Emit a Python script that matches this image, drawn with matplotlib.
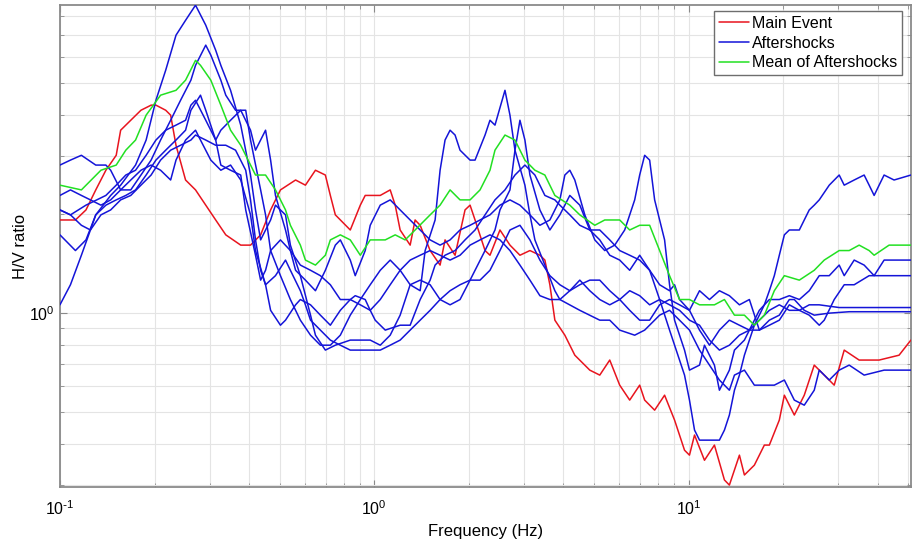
import matplotlib
matplotlib.use("Agg")
import matplotlib.pyplot as plt
from matplotlib.ticker import FixedLocator, NullFormatter, FixedFormatter

plt.rcParams['font.family'] = ['Liberation Sans', 'DejaVu Sans']
plt.rcParams['mathtext.default'] = 'regular'
plt.rcParams['axes.unicode_minus'] = False

# main event spectral ratio
red_freq = [0.100, 0.112, 0.121, 0.130, 0.140, 0.151, 0.156, 0.168, 0.181, 0.195, 0.202, 0.217, 0.225,
            0.234, 0.251, 0.270, 0.291, 0.313, 0.337, 0.376, 0.404, 0.435, 0.468, 0.503, 0.562, 0.604,
            0.650, 0.699, 0.725, 0.752, 0.839, 0.903, 0.936, 1.045, 1.124, 1.166, 1.209, 1.301, 1.349,
            1.400, 1.506, 1.620, 1.680, 1.808, 1.945, 2.018, 2.093, 2.252, 2.335, 2.512, 2.703, 2.908,
            3.129, 3.366, 3.491, 3.621, 3.756, 4.041, 4.347, 4.851, 5.219, 5.615, 6.040, 6.499, 6.992,
            7.252, 7.802, 8.392, 9.028, 9.712, 10.07, 10.45, 11.24, 12.09, 13.01, 13.49, 14.52, 15.06,
            16.20, 17.43, 18.08, 19.45, 20.18, 21.71, 23.35, 25.12, 27.03, 29.08, 31.29, 34.91, 37.56,
            40.41, 46.77, 51.0]
red_hv = [1.92, 1.92, 2.06, 2.37, 2.72, 3.02, 3.60, 3.86, 4.14, 4.29, 4.29, 4.14, 4.00,
          3.24, 2.54, 2.37, 2.13, 1.92, 1.73, 1.61, 1.61, 1.73, 2.06, 2.37, 2.54, 2.45,
          2.72, 2.63, 2.28, 1.99, 1.79, 2.13, 2.28, 2.28, 2.37, 2.13, 1.79, 1.61, 1.92,
          1.85, 1.55, 1.40, 1.67, 1.50, 2.06, 2.13, 1.92, 1.55, 1.50, 1.79, 1.61, 1.50,
          1.55, 1.50, 1.45, 1.22, 0.952, 0.857, 0.745, 0.671, 0.648, 0.720, 0.604, 0.544, 0.604,
          0.544, 0.507, 0.563, 0.473, 0.383, 0.370, 0.426, 0.357, 0.397, 0.311, 0.300, 0.370, 0.322,
          0.345, 0.397, 0.397, 0.473, 0.563, 0.490, 0.563, 0.695, 0.648, 0.604, 0.772, 0.720, 0.720,
          0.720, 0.745, 0.828]

# mean of the aftershock ratios
mean_freq = [0.100, 0.117, 0.135, 0.151, 0.162, 0.174, 0.188, 0.209, 0.234, 0.251, 0.270, 0.280,
             0.302, 0.325, 0.349, 0.376, 0.390, 0.419, 0.451, 0.485, 0.522, 0.541, 0.582, 0.604,
             0.650, 0.699, 0.725, 0.780, 0.839, 0.903, 0.971, 1.084, 1.166, 1.254, 1.349, 1.506,
             1.620, 1.743, 1.875, 2.018, 2.171, 2.335, 2.422, 2.606, 2.804, 3.016, 3.245, 3.491,
             3.756, 4.191, 4.509, 5.032, 5.413, 6.040, 6.499, 6.992, 7.522, 8.093, 8.703, 9.363,
             10.07, 10.84, 12.09, 13.01, 14.00, 15.06, 16.20, 17.43, 18.75, 20.18, 22.52, 25.12,
             27.03, 30.16, 32.45, 34.91, 37.56, 38.96, 43.47, 51.0]
mean_hv = [2.45, 2.37, 2.72, 2.82, 3.13, 3.36, 4.00, 4.60, 4.76, 5.11, 5.87, 5.67,
           5.11, 4.29, 3.60, 3.24, 3.02, 2.63, 2.63, 2.37, 2.06, 1.85, 1.61, 1.45,
           1.40, 1.50, 1.67, 1.73, 1.67, 1.50, 1.67, 1.67, 1.73, 1.67, 1.79, 1.99,
           2.13, 2.37, 2.21, 2.21, 2.37, 2.72, 3.13, 3.48, 3.36, 2.92, 2.72, 2.63,
           2.28, 2.13, 1.99, 1.85, 1.92, 1.92, 1.79, 1.85, 1.85, 1.55, 1.30, 1.10,
           1.10, 1.06, 1.06, 1.10, 0.986, 0.986, 0.919, 0.986, 1.17, 1.30, 1.26, 1.35,
           1.45, 1.55, 1.55, 1.61, 1.55, 1.50, 1.61, 1.61]

# individual aftershocks
as1_freq = [0.100, 0.112, 0.121, 0.130, 0.145, 0.156, 0.174, 0.188, 0.202, 0.217, 0.234, 0.251,
            0.270, 0.291, 0.313, 0.325, 0.349, 0.376, 0.404, 0.419, 0.435, 0.468, 0.485, 0.522,
            0.541, 0.582, 0.627, 0.650, 0.699, 0.752, 0.839, 0.903, 0.971, 1.045, 1.124, 1.209,
            1.301, 1.400, 1.506, 1.620, 1.743, 1.875, 2.018, 2.252, 2.422, 2.512, 2.703, 2.804,
            2.908, 3.016, 3.129, 3.366, 3.621, 3.896, 4.191, 4.509, 4.851, 5.219, 5.615, 6.040,
            6.499, 6.992, 7.522, 8.093, 8.703, 9.363, 9.712, 10.07, 10.45, 10.84, 11.66, 12.54,
            13.01, 13.49, 14.00, 14.52, 15.06, 15.62, 16.20, 16.80, 17.43, 18.08, 18.75, 19.45,
            20.18, 20.93, 22.52, 23.35, 24.22, 25.12, 26.06, 28.04, 30.16, 31.29, 33.66, 36.21,
            37.56, 38.96, 40.41, 41.91, 45.09, 51.0]
as1_hv = [1.73, 1.55, 1.67, 1.99, 2.28, 2.45, 2.82, 3.36, 4.44, 5.48, 7.00, 7.77,
          8.64, 7.51, 6.30, 5.67, 4.76, 3.73, 2.63, 2.06, 1.67, 1.92, 2.13, 1.99,
          1.61, 1.30, 0.986, 0.857, 0.772, 0.799, 0.828, 0.828, 0.828, 0.799, 0.857, 0.986,
          1.22, 1.26, 1.22, 1.10, 1.06, 1.10, 1.26, 1.55, 1.79, 2.06, 2.37, 3.13,
          3.86, 3.36, 2.63, 2.06, 1.79, 1.99, 2.28, 2.13, 1.79, 1.67, 1.50, 1.45,
          1.35, 1.50, 1.35, 1.10, 0.888, 0.720, 0.648, 0.544, 0.441, 0.411, 0.411, 0.411,
          0.441, 0.490, 0.583, 0.648, 0.745, 0.828, 0.919, 0.986, 1.06, 1.17, 1.30, 1.50,
          1.73, 1.79, 1.79, 1.92, 2.06, 2.13, 2.21, 2.45, 2.63, 2.45, 2.54, 2.63,
          2.45, 2.28, 2.45, 2.63, 2.54, 2.63]

as2_freq = [0.100, 0.108, 0.117, 0.130, 0.140, 0.145, 0.156, 0.168, 0.181, 0.195, 0.209, 0.225,
            0.242, 0.261, 0.270, 0.291, 0.302, 0.325, 0.337, 0.362, 0.390, 0.404, 0.435, 0.451,
            0.468, 0.503, 0.541, 0.582, 0.627, 0.674, 0.725, 0.780, 0.839, 0.903, 0.971, 1.045,
            1.124, 1.209, 1.301, 1.400, 1.452, 1.562, 1.620, 1.680, 1.743, 1.808, 1.875, 2.018,
            2.093, 2.252, 2.335, 2.422, 2.606, 2.703, 2.804, 3.016, 3.129, 3.245, 3.491, 3.756,
            3.896, 4.191, 4.509, 4.851, 5.219, 5.615, 6.040, 6.499, 6.992, 7.522, 8.093, 8.703,
            9.363, 10.07, 10.84, 11.66, 12.54, 13.49, 14.52, 15.62, 16.80, 18.08, 19.45, 20.93,
            22.52, 24.22, 26.06, 28.04, 30.16, 31.29, 33.66, 36.21, 38.96, 41.91, 51.0]
as2_hv = [2.82, 2.92, 3.02, 2.82, 2.82, 2.72, 2.37, 2.37, 2.63, 2.92, 3.36, 3.86,
          4.44, 5.11, 5.67, 6.53, 6.09, 5.11, 4.60, 4.14, 4.14, 3.36, 2.37, 1.99,
          1.55, 1.30, 1.10, 0.952, 0.857, 0.799, 0.799, 0.857, 0.986, 1.10, 1.22, 1.35,
          1.45, 1.35, 1.22, 1.17, 1.55, 1.92, 2.72, 3.36, 3.60, 3.48, 3.13, 2.92,
          2.92, 3.48, 3.86, 3.73, 4.76, 4.00, 3.13, 2.45, 1.99, 1.67, 1.40, 1.17,
          1.10, 1.17, 1.26, 1.17, 1.10, 1.06, 1.10, 1.02, 0.952, 0.952, 1.06, 1.10,
          1.06, 1.02, 0.888, 0.799, 0.888, 0.952, 0.919, 0.888, 1.02, 1.10, 1.10, 1.13,
          1.10, 1.17, 1.30, 1.30, 1.40, 1.30, 1.45, 1.40, 1.30, 1.45, 1.45]

as3_freq = [0.100, 0.108, 0.121, 0.140, 0.151, 0.162, 0.174, 0.188, 0.202, 0.217, 0.234, 0.251,
            0.261, 0.270, 0.291, 0.313, 0.325, 0.349, 0.376, 0.404, 0.419, 0.451, 0.468, 0.485,
            0.522, 0.541, 0.582, 0.627, 0.674, 0.725, 0.780, 0.839, 0.870, 0.936, 0.971, 1.007,
            1.084, 1.209, 1.301, 1.400, 1.506, 1.562, 1.680, 1.808, 1.945, 2.093, 2.252, 2.422,
            2.606, 2.804, 3.016, 3.245, 3.491, 3.756, 3.896, 4.191, 4.509, 4.851, 5.219, 5.615,
            6.040, 6.499, 6.992, 7.522, 8.093, 8.703, 9.028, 9.363, 10.07, 10.84, 11.66, 12.54,
            13.49, 14.52, 15.62, 16.80, 18.08, 19.45, 20.93, 22.52, 24.22, 26.06, 27.03, 29.08,
            31.29, 33.66, 37.56, 40.41, 45.09, 51.0]
as3_hv = [2.06, 1.99, 2.13, 2.28, 2.45, 2.63, 2.72, 3.02, 3.36, 3.60, 3.73, 3.86,
          4.29, 4.44, 3.86, 3.36, 3.60, 3.86, 4.14, 3.60, 3.13, 3.60, 2.92, 2.28,
          1.79, 1.55, 1.40, 1.35, 1.30, 1.22, 1.10, 1.10, 1.13, 1.10, 1.02, 0.952,
          0.888, 0.919, 0.919, 1.10, 1.26, 1.40, 1.50, 1.55, 1.67, 1.79, 1.99, 2.21,
          2.37, 2.63, 2.82, 2.63, 2.28, 2.21, 2.13, 1.99, 1.85, 1.79, 1.79, 1.67,
          1.55, 1.50, 1.45, 1.35, 1.22, 1.17, 1.22, 1.10, 1.02, 1.17, 1.10, 1.17,
          1.13, 1.06, 1.10, 0.888, 0.919, 0.952, 1.06, 1.02, 0.986, 0.919, 0.952, 1.10,
          1.22, 1.22, 1.30, 1.30, 1.30, 1.30]

as4_freq = [0.100, 0.108, 0.117, 0.125, 0.135, 0.145, 0.156, 0.168, 0.181, 0.195, 0.209, 0.225,
            0.242, 0.261, 0.270, 0.291, 0.313, 0.337, 0.362, 0.390, 0.404, 0.419, 0.435, 0.451,
            0.485, 0.522, 0.541, 0.582, 0.604, 0.627, 0.674, 0.725, 0.780, 0.839, 0.903, 0.971,
            1.045, 1.124, 1.209, 1.301, 1.400, 1.506, 1.620, 1.743, 1.875, 2.018, 2.171, 2.335,
            2.512, 2.703, 2.908, 3.129, 3.366, 3.621, 3.896, 4.191, 4.509, 4.851, 5.219, 5.615,
            6.040, 6.499, 6.992, 7.522, 8.093, 8.703, 9.363, 10.07, 10.84, 11.66, 12.54, 13.49,
            14.52, 15.62, 16.80, 18.08, 19.45, 20.93, 22.52, 24.22, 26.06, 30.16, 34.91, 40.41, 51.0]
as4_hv = [1.06, 1.22, 1.50, 1.79, 1.99, 2.06, 2.21, 2.28, 2.45, 2.63, 2.92, 3.13,
          3.24, 3.36, 3.48, 3.36, 3.24, 3.24, 3.13, 2.72, 2.21, 1.67, 1.35, 1.22,
          1.30, 1.45, 1.35, 1.17, 1.06, 0.952, 0.888, 0.828, 0.799, 0.772, 0.772, 0.772,
          0.772, 0.799, 0.828, 0.888, 0.952, 1.02, 1.10, 1.17, 1.22, 1.26, 1.26, 1.35,
          1.55, 1.79, 1.85, 1.67, 1.45, 1.30, 1.22, 1.17, 1.22, 1.26, 1.26, 1.17,
          1.10, 1.17, 1.13, 1.06, 1.10, 1.06, 1.02, 0.952, 0.919, 0.828, 0.772, 0.799,
          0.857, 0.888, 0.952, 1.02, 1.06, 1.02, 1.02, 1.06, 1.06, 1.04, 1.04, 1.04, 1.04]

as5_freq = [0.100, 0.108, 0.117, 0.125, 0.130, 0.140, 0.151, 0.162, 0.174, 0.188, 0.202, 0.217,
            0.234, 0.251, 0.261, 0.280, 0.291, 0.313, 0.325, 0.349, 0.376, 0.390, 0.419, 0.435,
            0.451, 0.468, 0.503, 0.541, 0.562, 0.604, 0.650, 0.699, 0.752, 0.780, 0.839, 0.870,
            0.936, 0.971, 1.045, 1.124, 1.209, 1.301, 1.400, 1.506, 1.620, 1.743, 1.875, 2.018,
            2.171, 2.335, 2.512, 2.703, 2.908, 3.129, 3.366, 3.621, 3.896, 4.041, 4.191, 4.347,
            4.677, 5.032, 5.413, 5.824, 6.265, 6.741, 6.992, 7.252, 7.522, 7.802, 8.392, 8.703,
            9.028, 9.712, 10.07, 10.84, 11.24, 12.09, 12.54, 13.49, 14.00, 15.06, 15.62, 16.80,
            18.08, 19.45, 20.93, 21.71, 23.35, 25.12, 28.04, 32.45, 37.56, 51.0]
as5_hv = [2.06, 1.99, 1.85, 1.79, 1.99, 2.13, 2.21, 2.28, 2.37, 2.63, 2.92, 3.13,
          3.36, 3.60, 4.14, 4.60, 4.14, 3.36, 2.82, 2.72, 2.63, 2.06, 1.50, 1.26,
          1.35, 1.55, 1.67, 1.55, 1.35, 1.26, 1.17, 1.35, 1.61, 1.67, 1.45, 1.30,
          1.55, 1.85, 2.13, 2.21, 2.06, 1.92, 1.79, 1.67, 1.61, 1.67, 1.79, 1.85,
          1.92, 1.99, 2.13, 2.21, 2.13, 1.99, 1.85, 1.92, 2.21, 2.63, 2.72, 2.54,
          1.99, 1.67, 1.55, 1.61, 1.79, 2.21, 2.63, 3.02, 2.92, 2.21, 1.67, 1.22,
          0.952, 0.772, 0.671, 0.695, 0.799, 0.695, 0.583, 0.671, 0.772, 0.828, 0.888, 0.888,
          0.952, 0.986, 1.10, 1.10, 1.02, 0.986, 1.00, 1.01, 1.01, 1.01]

as6_freq = [0.100, 0.108, 0.117, 0.125, 0.135, 0.145, 0.156, 0.168, 0.181, 0.195, 0.209, 0.225,
            0.234, 0.251, 0.270, 0.280, 0.302, 0.325, 0.349, 0.376, 0.404, 0.419, 0.451, 0.468,
            0.503, 0.522, 0.562, 0.582, 0.627, 0.674, 0.725, 0.780, 0.839, 0.903, 0.971, 1.045,
            1.124, 1.209, 1.301, 1.400, 1.506, 1.620, 1.743, 1.875, 2.018, 2.171, 2.335, 2.512,
            2.703, 2.908, 3.129, 3.366, 3.621, 3.896, 4.509, 5.219, 5.615, 6.040, 6.741, 7.252,
            8.093, 8.703, 9.363, 10.07, 10.84, 11.66, 12.54, 13.49, 14.00, 15.06, 16.20, 18.75,
            20.18, 21.71, 23.35, 25.12, 26.06, 28.04, 30.16, 32.45, 36.21, 41.91, 51.0]
as6_hv = [2.28, 2.37, 2.28, 2.21, 2.13, 2.21, 2.37, 2.54, 2.72, 2.82, 2.72, 2.54,
          2.92, 3.36, 3.60, 3.36, 2.92, 2.72, 2.82, 2.54, 1.99, 1.55, 1.22, 1.02,
          0.919, 0.952, 1.06, 1.10, 1.06, 0.986, 0.919, 1.02, 1.10, 1.06, 1.02, 1.10,
          1.22, 1.35, 1.45, 1.50, 1.55, 1.50, 1.45, 1.50, 1.61, 1.67, 1.73, 1.67,
          1.55, 1.40, 1.26, 1.13, 1.10, 1.10, 1.02, 0.952, 0.952, 0.888, 0.857, 0.888,
          0.986, 1.02, 0.952, 0.888, 0.772, 0.695, 0.626, 0.583, 0.648, 0.671, 0.604, 0.604,
          0.626, 0.544, 0.525, 0.583, 0.671, 0.626, 0.671, 0.695, 0.648, 0.671, 0.671]

aftershocks = [(as1_freq, as1_hv), (as2_freq, as2_hv), (as3_freq, as3_hv),
               (as4_freq, as4_hv), (as5_freq, as5_hv), (as6_freq, as6_hv)]

fig = plt.figure(figsize=(9.14, 5.43), dpi=100)
ax = fig.add_axes([0.0656, 0.1031, 0.931, 0.8877])

lw = 1.1
style = dict(lw=lw, solid_joinstyle='round', solid_capstyle='round')
ax.plot(red_freq, red_hv, color='#e8141e', label='Main Event', zorder=3, **style)
for i, (f, hv) in enumerate(aftershocks):
    ax.plot(f, hv, color='#1414d8', label='Aftershocks' if i == 0 else None, zorder=3, **style)
ax.plot(mean_freq, mean_hv, color='#22e022', label='Mean of Aftershocks', zorder=4, **style)

ax.set_xscale('log')
ax.set_yscale('log')
ax.set_xlim(0.1, 51)
ax.set_ylim(0.296, 8.65)

xmin = [m * 10.0 ** e for e in (-1, 0, 1) for m in range(2, 10)]
ax.xaxis.set_major_locator(FixedLocator([0.1, 1, 10]))
ax.xaxis.set_major_formatter(FixedFormatter([r'$10^{\text{-}1}$', '$10^{0}$', '$10^{1}$']))
ax.xaxis.set_minor_locator(FixedLocator(xmin))
ax.xaxis.set_minor_formatter(NullFormatter())

ymin = [0.3, 0.4, 0.5, 0.6, 0.7, 0.8, 0.9, 2, 3, 4, 5, 6, 7, 8]
ax.yaxis.set_major_locator(FixedLocator([1]))
ax.yaxis.set_major_formatter(FixedFormatter(['$10^{0}$']))
ax.yaxis.set_minor_locator(FixedLocator(ymin))
ax.yaxis.set_minor_formatter(NullFormatter())

ax.grid(True, which='both', color='#e4e4e4', lw=0.8)
ax.set_axisbelow(True)
for s in ax.spines.values():
    s.set_color('#8a8a8a')
    s.set_linewidth(1.3)
ax.tick_params(which='both', direction='in', top=True, right=True, colors='#8a8a8a',
               labelcolor='black', labelsize=11.5)
ax.tick_params(which='major', length=5)
ax.tick_params(which='minor', length=3)
ax.tick_params(axis='x', which='major', pad=9)

ax.set_xlabel('Frequency (Hz)', fontsize=12, labelpad=4)
ax.set_ylabel('H/V ratio', fontsize=12, labelpad=1)

leg = ax.legend(loc='upper right', bbox_to_anchor=(0.9894, 0.9876), borderaxespad=0,
                fontsize=11.5, handlelength=1.9, handletextpad=0.15, labelspacing=0.3,
                borderpad=0.3, fancybox=False, framealpha=1)
leg.get_frame().set_edgecolor('#6e6e6e')
leg.get_frame().set_linewidth(1.0)

fig.savefig('out.png', dpi=100)
